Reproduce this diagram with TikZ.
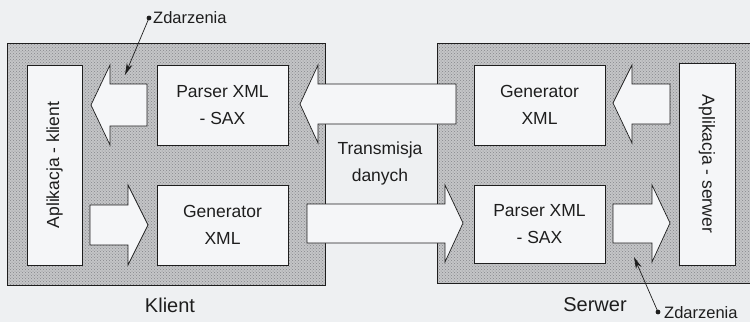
\documentclass[tikz,border=0pt]{standalone}
\usepackage{fontspec}
\setmainfont{Liberation Sans}
\usetikzlibrary{patterns,arrows.meta}
\definecolor{page}{HTML}{EEF0F2}
\definecolor{boxfill}{HTML}{F5F6F8}
\definecolor{ink}{HTML}{1E1E1E}
\definecolor{zonebase}{HTML}{C4C5C7}
\definecolor{dotgray}{HTML}{85868A}
\begin{document}
\begin{tikzpicture}[x=1pt,y=-1pt,
  zone/.style={preaction={fill=zonebase}, pattern=crosshatch dots, pattern color=dotgray, draw=ink, line width=0.8pt},
  box/.style={draw=ink, fill=boxfill, line width=0.7pt, inner sep=0pt, align=center, text=ink,
    font=\fontsize{17.5}{27}\selectfont},
  bigarrow/.style={draw=ink, fill=boxfill, line width=0.7pt, line join=miter},
  lab/.style={text=ink, inner sep=0pt},
  evt/.style={draw=ink, line width=0.7pt, -{Stealth[length=12pt,width=6pt]}}]
\useasboundingbox[fill=page] (0,0) rectangle (750,322);

% zones
\node[zone, anchor=north west, minimum width=318pt, minimum height=242pt, inner sep=0pt] (klient) at (7,43) {};
\node[zone, anchor=north west, minimum width=330pt, minimum height=240pt, inner sep=0pt] (serwer) at (437,43) {};

% client boxes
\node[box, minimum width=55pt, minimum height=200pt] (capp) at (54.5,165) {};
\node[lab, rotate=90, font=\fontsize{17.5}{20}\selectfont] (capptxt) at (capp.center) {Aplikacja - klient};
\node[box, minimum width=131pt, minimum height=80pt] (cparser) at (222.5,105) {Parser XML\\- SAX};
\node[box, minimum width=131pt, minimum height=80pt] (cgen) at (222.5,225) {Generator\\XML};

% server boxes
\node[box, minimum width=131pt, minimum height=80pt] (sgen) at (539.5,105) {Generator\\XML};
\node[box, minimum width=131pt, minimum height=78pt] (sparser) at (539.5,224) {Parser XML\\- SAX};
\node[box, minimum width=56pt, minimum height=202pt] (sapp) at (707,164) {};
\node[lab, rotate=-90, font=\fontsize{17.5}{20}\selectfont] (sapptxt) at (sapp.center) {Aplikacja - serwer};

% big arrows
\draw[bigarrow] (147,84) -- (110,84) -- (110,65) -- (91,105) -- (110,145) -- (110,126) -- (147,126) -- cycle;
\draw[bigarrow] (90,205) -- (128,205) -- (128,185) -- (148,225) -- (128,265) -- (128,245) -- (90,245) -- cycle;
\draw[bigarrow] (456,84) -- (318,84) -- (318,65) -- (300,104) -- (318,143) -- (318,124) -- (456,124) -- cycle;
\draw[bigarrow] (307,204) -- (445,204) -- (445,185) -- (463,223) -- (445,262) -- (445,243) -- (307,243) -- cycle;
\draw[bigarrow] (670,84) -- (632,84) -- (632,65) -- (613,103) -- (632,143) -- (632,124) -- (670,124) -- cycle;
\draw[bigarrow] (613,204) -- (652,204) -- (652,185) -- (670,223) -- (652,262) -- (652,243) -- (613,243) -- cycle;

% labels
\node[lab, align=center, font=\fontsize{17.5}{27}\selectfont] (trans) at (380,163) {Transmisja\\danych};
\node[lab, font=\fontsize{20}{24}\selectfont] (klab) at (170,305) {Klient};
\node[lab, font=\fontsize{20}{24}\selectfont] (slab) at (595,305) {Serwer};

% events
\coordinate (e1) at (149,18);
\coordinate (e1t) at (125,75);
\fill[ink] (e1) circle (2.4pt);
\node[lab, anchor=west, font=\fontsize{16.5}{19}\selectfont] (z1) at (153,18) {Zdarzenia};
\draw[evt] (e1) -- (e1t);

\coordinate (e2) at (658,312);
\coordinate (e2t) at (634,257);
\fill[ink] (e2) circle (2.4pt);
\node[lab, anchor=west, font=\fontsize{16.5}{19}\selectfont] (z2) at (664,313) {Zdarzenia};
\draw[evt] (e2) -- (e2t);
\end{tikzpicture}
\end{document}
